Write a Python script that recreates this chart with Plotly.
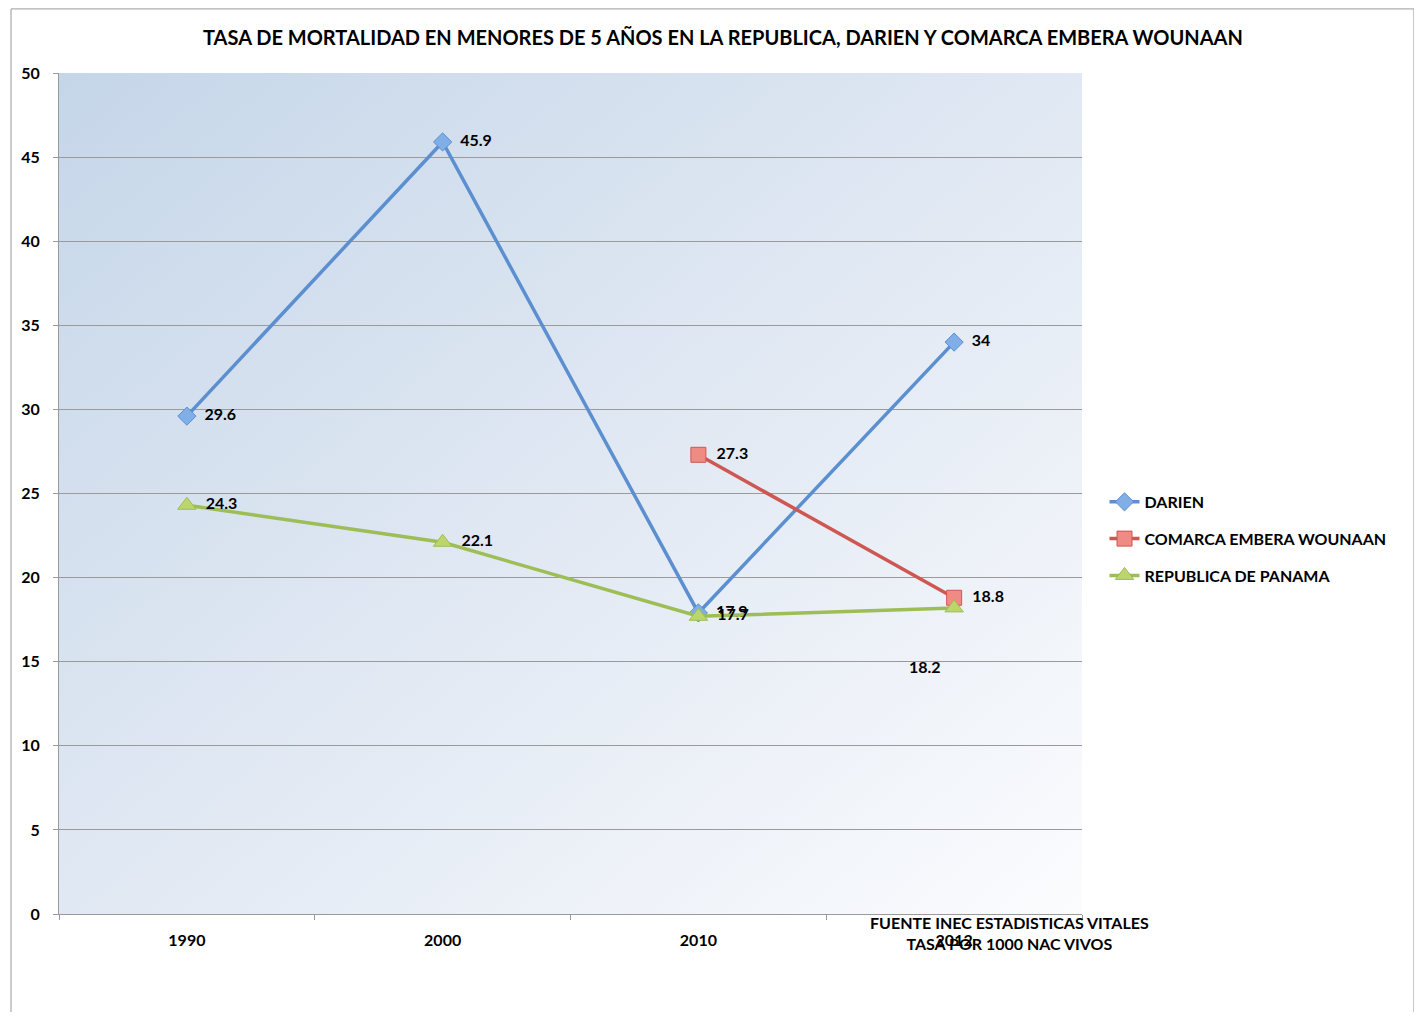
import base64

import plotly.graph_objects as go

years = ["1990", "2000", "2010", "2012"]
darien = [29.6, 45.9, 17.9, 34]
comarca = [None, None, 27.3, 18.8]
republica = [24.3, 22.1, 17.7, 18.2]

title = "TASA DE MORTALIDAD EN MENORES DE 5 AÑOS EN LA REPUBLICA, DARIEN Y COMARCA EMBERA WOUNAAN"
source_note = "FUENTE INEC ESTADISTICAS VITALES<br>TASA POR 1000 NAC VIVOS"

FONT = "Lato, 'Open Sans', sans-serif"
BOLD = dict(family=FONT, size=16, color="#000000", weight="bold")

# diagonal gradient for the plot area, as an inline svg
svg = (
    '<svg xmlns="http://www.w3.org/2000/svg" width="100" height="100" preserveAspectRatio="none">'
    '<defs><linearGradient id="g" x1="0" y1="0" x2="1" y2="1">'
    '<stop offset="0" stop-color="#c5d6e9"/>'
    '<stop offset="0.55" stop-color="#e3eaf4"/>'
    '<stop offset="1" stop-color="#fbfcfe"/>'
    "</linearGradient></defs>"
    '<rect width="100" height="100" fill="url(#g)"/></svg>'
)
bg_src = "data:image/svg+xml;base64," + base64.b64encode(svg.encode()).decode()


def labels(values, skip=()):
    # leading spaces keep the label clear of the marker, as in the original
    return ["" if v is None or i in skip else "\u00a0\u00a0" + f"{v:g}" for i, v in enumerate(values)]


fig = go.Figure()

fig.add_trace(
    go.Scatter(
        x=years,
        y=darien,
        name="DARIEN",
        legendgroup="a",
        mode="lines+markers+text",
        text=labels(darien),
        textposition="middle right",
        line=dict(color="#5b8fcf", width=3.5),
        marker=dict(symbol="diamond", size=14, color="#80aee6",
                    line=dict(color="#5b8fcf", width=1)),
    )
)
fig.add_trace(
    go.Scatter(
        x=years,
        y=comarca,
        name="COMARCA EMBERA WOUNAAN",
        legendgroup="b",
        mode="lines+markers+text",
        text=labels(comarca),
        textposition="middle right",
        line=dict(color="#cf5751", width=3.5),
        marker=dict(symbol="square", size=15, color="#f08a84",
                    line=dict(color="#cf5751", width=1)),
    )
)
fig.add_trace(
    go.Scatter(
        x=years,
        y=republica,
        name="REPUBLICA DE PANAMA",
        legendgroup="c",
        mode="lines+markers+text",
        text=labels(republica, skip=(3,)),
        textposition="middle right",
        line=dict(color="#9dbd56", width=3.5),
        marker=dict(symbol="triangle-up", size=16, color="#bcd66c",
                    line=dict(color="#9dbd56", width=1)),
    )
)
fig.update_traces(textfont=BOLD)

# the 2012 label of the republic series sits below the point
fig.add_annotation(
    x=3, y=republica[3], text=f"{republica[3]:g}",
    showarrow=False, xshift=-29, yshift=-59,
    font=BOLD,
)
fig.add_annotation(
    xref="paper", yref="paper", x=0.9296, y=0.0, xanchor="center", yanchor="top",
    yshift=3, text=source_note, showarrow=False, align="center",
    font=BOLD,
)

fig.add_layout_image(
    source=bg_src, xref="paper", yref="paper", x=0, y=1,
    sizex=1, sizey=1, sizing="stretch", xanchor="left", yanchor="top",
    layer="below",
)

# outer chart border
fig.add_shape(
    type="rect", xref="paper", yref="paper",
    x0=-0.0469, x1=1.3245, y0=-0.14, y1=1.0762,
    line=dict(color="#9a9a9a", width=1), fillcolor="rgba(0,0,0,0)",
)

fig.update_layout(
    width=1406,
    height=1004,
    margin=dict(l=51, r=332, t=65, b=98),
    paper_bgcolor="white",
    plot_bgcolor="rgba(0,0,0,0)",
    font=BOLD,
    title=dict(
        text=title, x=0.5085, xanchor="center", y=0.97, yanchor="middle",
        xref="container", font=dict(family=FONT, size=20, color="#000000", weight="bold"),
    ),
    showlegend=True,
    legend=dict(
        x=1.022, y=0.446, xanchor="left", yanchor="middle",
        font=BOLD, tracegroupgap=13, bgcolor="rgba(0,0,0,0)",
    ),
)
fig.update_xaxes(
    type="category", range=[-0.5, 3.5], tickson="boundaries",
    ticks="outside", ticklen=5, tickcolor="#9a9a9a",
    showline=True, linecolor="#9a9a9a", linewidth=1, showgrid=False,
    tickfont=BOLD, ticklabelstandoff=12,
)
fig.update_yaxes(
    range=[0, 50], dtick=5, ticks="outside", ticklen=5, tickcolor="#9a9a9a",
    showline=True, linecolor="#9a9a9a", linewidth=1,
    showgrid=True, gridcolor="#9a9a9a", gridwidth=1, zeroline=False,
    tickfont=BOLD, ticklabelstandoff=10,
)

fig.write_html("out.html")
